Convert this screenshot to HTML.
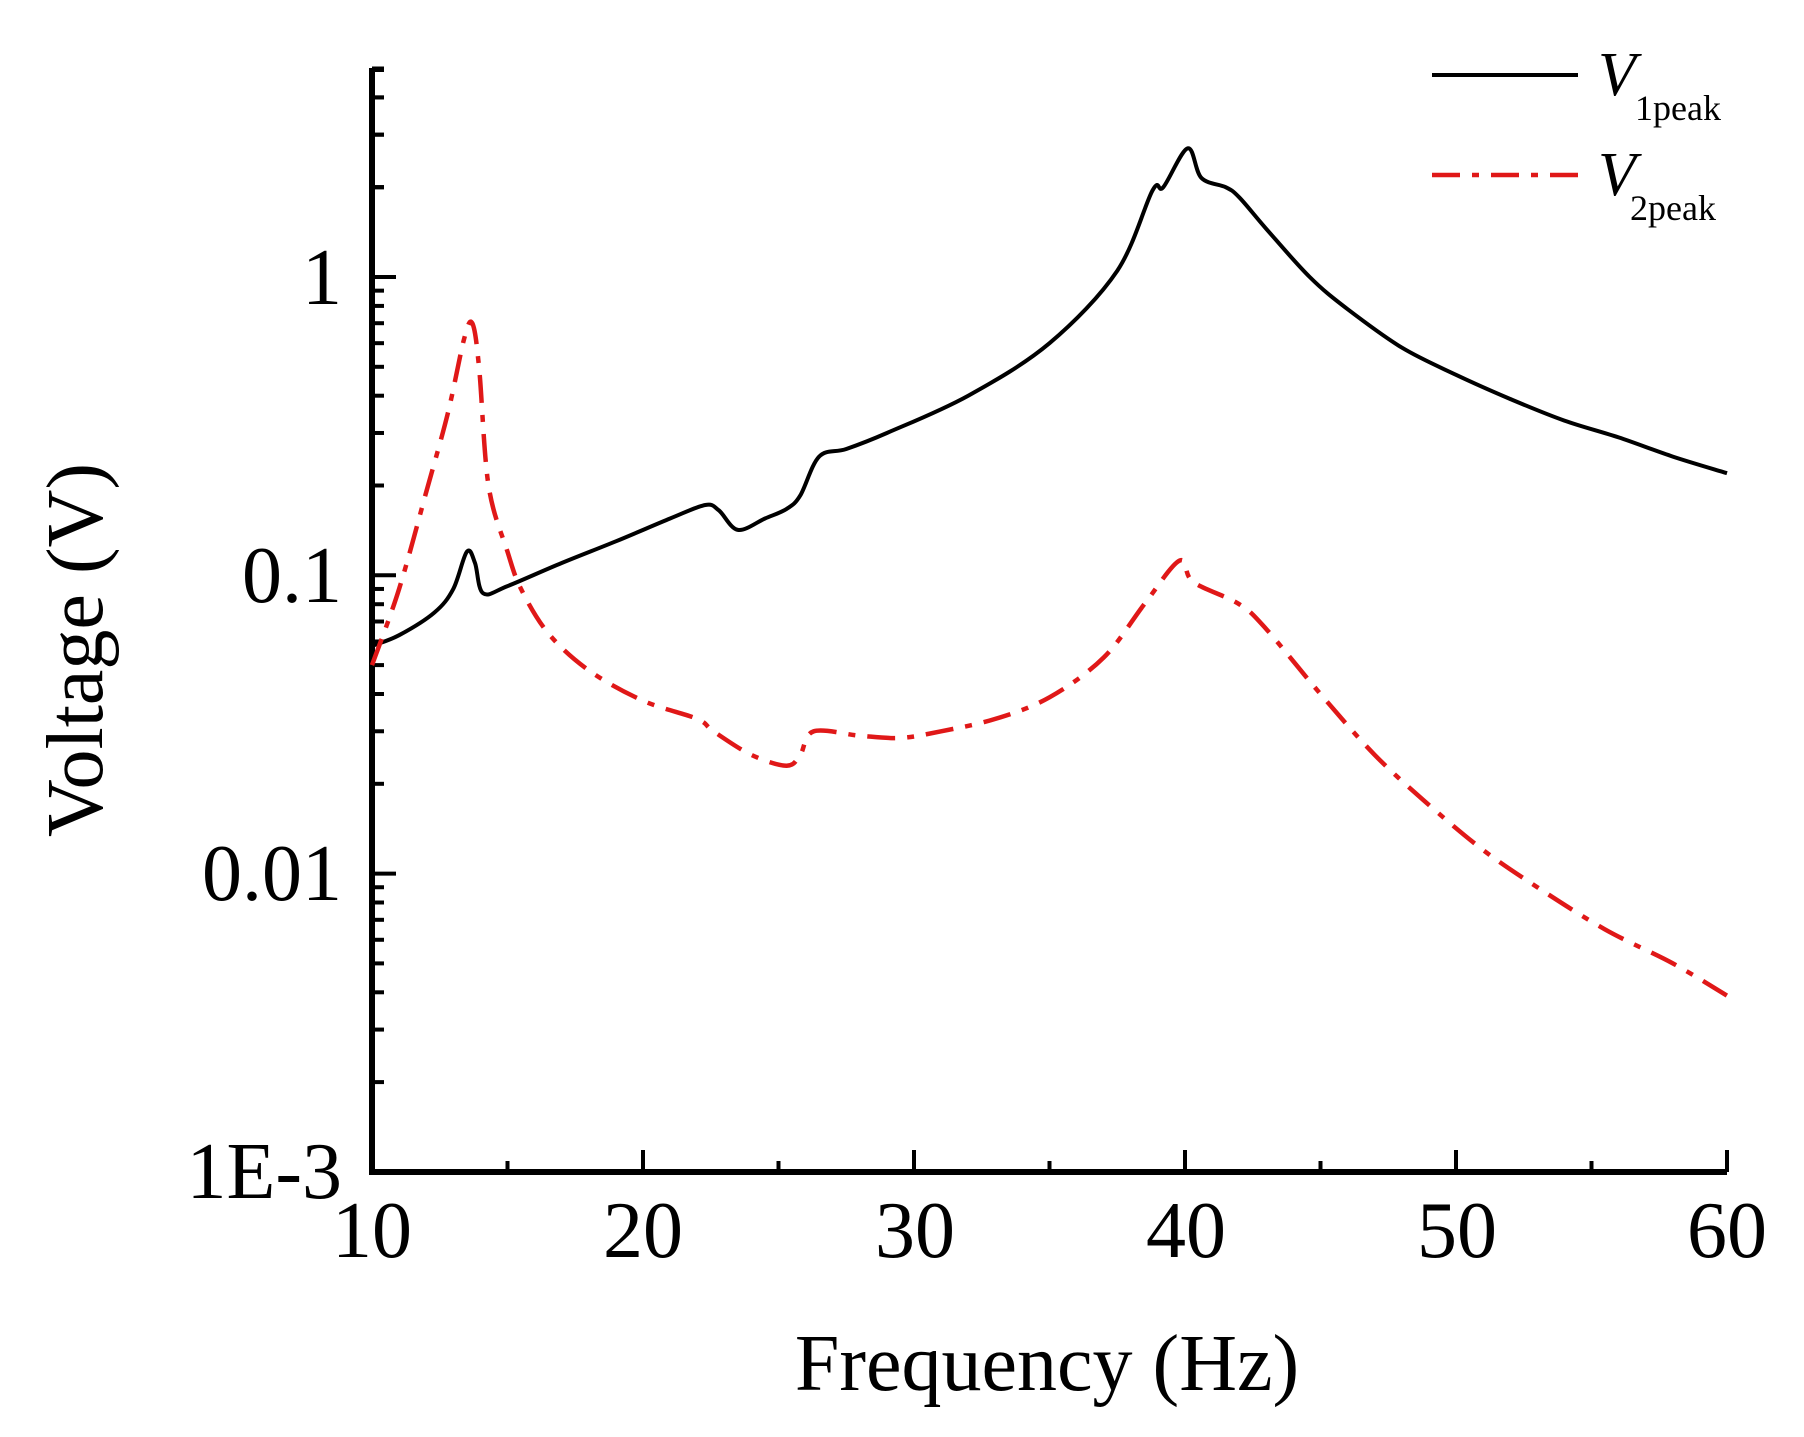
<!DOCTYPE html>
<html><head><meta charset="utf-8"><style>
html,body{margin:0;padding:0;background:#fff;}
svg{display:block;}
text{font-family:"Liberation Serif",serif;fill:#000;}
</style></head><body>
<svg id="s" width="1804" height="1437" viewBox="0 0 1804 1437" xmlns="http://www.w3.org/2000/svg">
<g id="ticks" stroke="#000" stroke-width="4"></g>
<path d="M372,68 L372,1172 L1727,1172" fill="none" stroke="#000" stroke-width="6"/>
<path id="blk" fill="none" stroke="#000" stroke-width="4"/>
<path id="red" fill="none" stroke="#e01818" stroke-width="4.5" stroke-dasharray="28 12 7 12"/>
<g font-size="80" text-anchor="middle">
<text x="372" y="1257">10</text><text x="643" y="1257">20</text><text x="915" y="1257">30</text>
<text x="1186" y="1257">40</text><text x="1457" y="1257">50</text><text x="1727" y="1257">60</text>
</g>
<g font-size="80" text-anchor="end">
<text x="342" y="304">1</text><text x="342" y="602">0.1</text><text x="342" y="900">0.01</text><text x="342" y="1198">1E-3</text>
</g>
<text x="1047" y="1390" font-size="80" text-anchor="middle">Frequency (Hz)</text>
<text transform="translate(102,650) rotate(-90)" font-size="80" text-anchor="middle">Voltage (V)</text>
<line x1="1432" y1="75" x2="1578" y2="75" stroke="#000" stroke-width="4"/>
<line x1="1432" y1="175" x2="1578" y2="175" stroke="#e01818" stroke-width="4.5" stroke-dasharray="28 12 7 12"/>
<text x="1598" y="95" font-size="62" font-style="italic">V</text>
<text x="1635" y="120" font-size="36">1peak</text>
<text x="1598" y="195" font-size="62" font-style="italic">V</text>
<text x="1630" y="220" font-size="36">2peak</text>
</svg>
<script>
var X=function(f){return 372+(f-10)*(1727-372)/50;};
var Y=function(v){return 277-Math.log10(v)*298.3;};
var t=document.getElementById('ticks'),h='';
for(var f=15;f<60;f+=5){var big=(f%10==0);h+='<line x1="'+X(f)+'" y1="1172" x2="'+X(f)+'" y2="'+(1172-(big?22:11))+'"/>';}
h+='<line x1="1727" y1="1172" x2="1727" y2="1150"/>';
for(var d=-3;d<=0;d++){for(var m=1;m<=9;m++){var v=m*Math.pow(10,d);var y=Y(v);if(y<68)continue;var big=(m==1);
h+='<line x1="372" y1="'+y+'" x2="'+(372+(big?24:12))+'" y2="'+y+'"/>';}}
h+='<line x1="372" y1="'+Y(2)+'" x2="384" y2="'+Y(2)+'"/>';
for(var m=2;m<=5;m++){var y=Y(m);h+='<line x1="372" y1="'+y+'" x2="384" y2="'+y+'"/>';}
h+='<line x1="372" y1="70" x2="384" y2="70"/>';
t.innerHTML=h;
function path(pts){var p=pts.map(function(a){return [X(a[0]),Y(a[1])];});
var d='M'+p[0][0].toFixed(1)+','+p[0][1].toFixed(1);
for(var i=0;i<p.length-1;i++){var p0=p[i-1]||p[i],p1=p[i],p2=p[i+1],p3=p[i+2]||p2;
var c1=[p1[0]+(p2[0]-p0[0])/6,p1[1]+(p2[1]-p0[1])/6],c2=[p2[0]-(p3[0]-p1[0])/6,p2[1]-(p3[1]-p1[1])/6];
d+=' C'+c1[0].toFixed(1)+','+c1[1].toFixed(1)+' '+c2[0].toFixed(1)+','+c2[1].toFixed(1)+' '+p2[0].toFixed(1)+','+p2[1].toFixed(1);}
return d;}
var B=[[10,0.058],[11,0.063],[12.3,0.075],[13,0.09],[13.5,0.12],[13.8,0.11],[14.1,0.087],[15,0.092],[17,0.11],[19,0.13],[21,0.155],[22.3,0.172],[22.8,0.165],[23.5,0.142],[24.5,0.155],[25.3,0.167],[25.8,0.185],[26.5,0.25],[27.5,0.265],[29,0.3],[32,0.4],[35,0.6],[37.5,1.05],[38.8,1.95],[39.2,2.0],[40.1,2.7],[40.6,2.15],[41.5,2.0],[42,1.85],[43,1.45],[44.6,1.0],[46,0.78],[48,0.58],[50,0.47],[52,0.39],[54,0.33],[56,0.29],[58,0.25],[60,0.22]];
var R=[[10,0.05],[11,0.09],[12,0.19],[12.8,0.35],[13.4,0.62],[13.7,0.7],[13.95,0.5],[14.3,0.2],[15,0.12],[15.5,0.09],[16.5,0.064],[18,0.048],[20,0.038],[22,0.033],[22.6,0.03],[24,0.025],[25.3,0.023],[25.8,0.025],[26.3,0.03],[28,0.029],[29.5,0.0285],[31,0.03],[33,0.033],[35,0.039],[37,0.053],[38.5,0.08],[39.8,0.112],[40.3,0.095],[42,0.08],[43,0.066],[45,0.04],[47,0.025],[49,0.017],[51,0.012],[53,0.009],[55.5,0.0065],[58,0.005],[60,0.0039]];
document.getElementById('blk').setAttribute('d',path(B));
document.getElementById('red').setAttribute('d',path(R));
</script>
</body></html>
